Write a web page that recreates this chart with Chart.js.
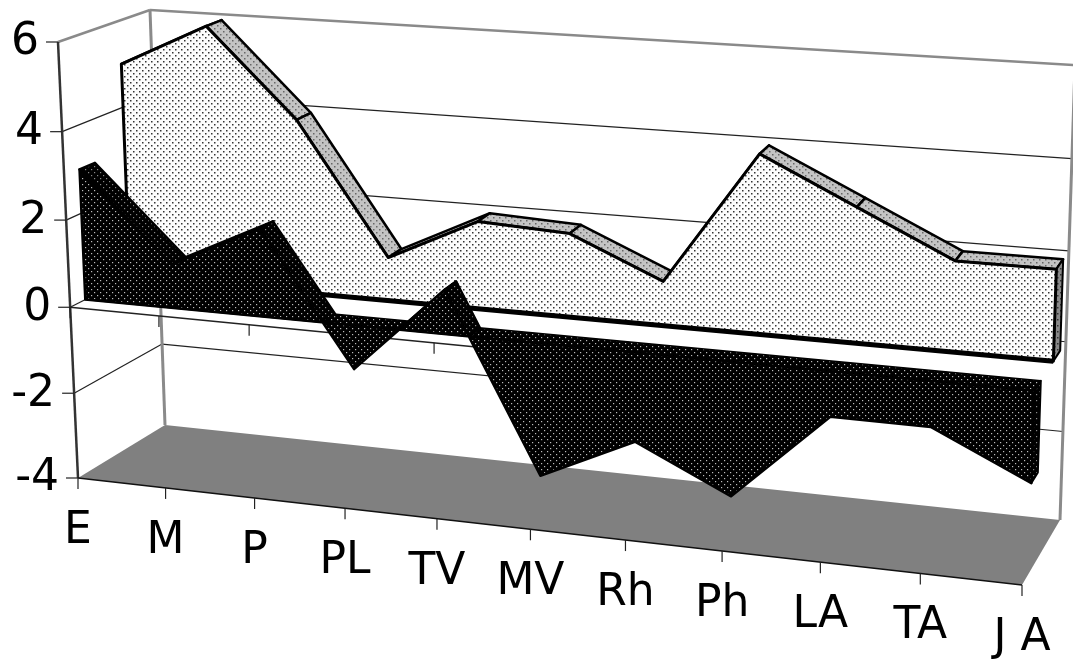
<!DOCTYPE html>
<html>
<head>
<meta charset="utf-8">
<style>
  html, body { margin: 0; padding: 0; background: #fff; overflow: hidden; }
  canvas { display: block; }
</style>
<script src="https://cdn.jsdelivr.net/npm/chart.js@4"></script>
</head>
<body>
<canvas id="chart" width="1073" height="659"></canvas>
<script>
const categories = ['E', 'M', 'P', 'PL', 'TV', 'MV', 'Rh', 'Ph', 'LA', 'TA', 'J A'];
const lightValues = [5, 6, 4, 1, 2, 1.9, 1, 4, 3, 2, 2];
const darkValues = [3, 1, 2, -1, 1, -3, -2, -3, -1, -1, -2];
const yMin = -4;
const yMax = 6;
const yStep = 2;

// corners of the front and back planes of the 3D box: bottom-left, bottom-right, top-right, top-left
const frontPlane = [[78, 478], [1022, 585], [1037, 114], [58, 42]];
const backPlane = [[165, 425], [1060, 520], [1075, 65], [150, 10]];

const planeAt = (w) => frontPlane.map((p, i) => [
  p[0] + (backPlane[i][0] - p[0]) * w,
  p[1] + (backPlane[i][1] - p[1]) * w,
]);

const project = (u, v, w) => {
  const [[x0, y0], [x1, y1], [x2, y2], [x3, y3]] = planeAt(w);
  const dx1 = x1 - x2, dx2 = x3 - x2, dx3 = x0 - x1 + x2 - x3;
  const dy1 = y1 - y2, dy2 = y3 - y2, dy3 = y0 - y1 + y2 - y3;
  const det = dx1 * dy2 - dx2 * dy1;
  const g = (dx3 * dy2 - dx2 * dy3) / det;
  const h = (dx1 * dy3 - dx3 * dy1) / det;
  const d = g * u + h * v + 1;
  return [
    ((x1 - x0 + g * x1) * u + (x3 - x0 + h * x3) * v + x0) / d,
    ((y1 - y0 + g * y1) * u + (y3 - y0 + h * y3) * v + y0) / d,
  ];
};

const makeDots = (bg, dot, size) => {
  const tile = document.createElement('canvas');
  tile.width = 6;
  tile.height = 6;
  const c = tile.getContext('2d');
  c.fillStyle = bg;
  c.fillRect(0, 0, 6, 6);
  c.fillStyle = dot;
  c.fillRect(1, 1, size, size);
  c.fillRect(4, 4, size, size);
  return c.createPattern(tile, 'repeat');
};

const polygon = (ctx, pts, fill, stroke, width) => {
  ctx.beginPath();
  pts.forEach((p, i) => (i ? ctx.lineTo(p[0], p[1]) : ctx.moveTo(p[0], p[1])));
  ctx.closePath();
  if (fill) {
    ctx.fillStyle = fill;
    ctx.fill();
  }
  if (stroke) {
    ctx.strokeStyle = stroke;
    ctx.lineWidth = width;
    ctx.stroke();
  }
};

const line = (ctx, a, b, color, width) => {
  ctx.beginPath();
  ctx.moveTo(a[0], a[1]);
  ctx.lineTo(b[0], b[1]);
  ctx.strokeStyle = color;
  ctx.lineWidth = width;
  ctx.stroke();
};

// draws one series as a solid band between two depths, from the points the library placed
const drawVolume = (chart, index) => {
  const { ctx, chartArea: area } = chart;
  const ds = chart.data.datasets[index];
  const toU = (x) => (x - area.left) / area.width;
  const toV = (y) => (area.bottom - y) / area.height;
  const pts = chart.getDatasetMeta(index).data.map((el) => [toU(el.x), toV(el.y)]);
  const base = toV(chart.scales.y.getPixelForValue(0));
  const [w0, w1] = ds.depth;
  const n = pts.length;
  const uFirst = pts[0][0];
  const uLast = pts[n - 1][0];

  ctx.lineJoin = 'round';

  // floor of the band, only seen where the values go negative
  if (pts.some((p) => p[1] < base)) {
    polygon(ctx, [project(uFirst, base, w0), project(uLast, base, w0), project(uLast, base, w1), project(uFirst, base, w1)], ds.faceFill, '#000', 1.5);
  }

  // top ribbon, segment by segment, cut where it meets the zero plane
  for (let i = 0; i < n - 1; i++) {
    let p = pts[i];
    let q = pts[i + 1];
    if (p[1] <= base && q[1] <= base) continue;
    const t = (base - p[1]) / (q[1] - p[1]);
    const cut = [p[0] + (q[0] - p[0]) * t, base];
    if (p[1] < base) p = cut;
    if (q[1] < base) q = cut;
    polygon(ctx, [project(p[0], p[1], w0), project(q[0], q[1], w0), project(q[0], q[1], w1), project(p[0], p[1], w1)], ds.ribbonFill, '#000', 2.5);
  }

  // end cap
  const end = pts[n - 1];
  polygon(ctx, [project(end[0], end[1], w0), project(end[0], end[1], w1), project(end[0], base, w1), project(end[0], base, w0)], ds.capFill, '#000', 2);

  // front face
  const face = pts.map((p) => project(p[0], p[1], w0));
  face.push(project(uLast, base, w0), project(uFirst, base, w0));
  polygon(ctx, face, ds.faceFill, '#000', ds.edgeWidth);
  if (ds.baseWidth) {
    line(ctx, project(uFirst, base, w0), project(uLast, base, w0), '#000', ds.baseWidth);
  }
};

const boxPlugin = {
  id: 'box3d',
  afterDatasetsDraw(chart) {
    const { ctx, chartArea: area, scales } = chart;
    const toV = (y) => (area.bottom - y) / area.height;
    const toU = (x) => (x - area.left) / area.width;
    const zero = toV(scales.y.getPixelForValue(0));
    const grey = '#808080';

    ctx.save();
    ctx.lineCap = 'butt';

    // floor
    polygon(ctx, [project(0, 0, 0), project(1, 0, 0), project(1, 0, 1), project(0, 0, 1)], grey);

    // walls: grid on side and back
    scales.y.ticks.forEach((tick) => {
      const v = toV(scales.y.getPixelForValue(tick.value));
      if (tick.value === yMin) return;
      if (tick.value === yMax) {
        line(ctx, project(0, v, 0), project(0, v, 1), '#8a8a8a', 2.5);
        line(ctx, project(0, v, 1), project(1, v, 1), '#8a8a8a', 2.5);
      } else {
        line(ctx, project(0, v, 0), project(0, v, 1), '#222', 1.2);
        line(ctx, project(0, v, 1), project(1, v, 1), '#222', 1.2);
      }
    });
    line(ctx, project(0, 1, 1), project(0, 0, 1), '#8a8a8a', 3);
    line(ctx, project(1, 1, 1), project(1, 0, 1), '#8a8a8a', 3);

    // axes
    line(ctx, project(0, 1, 0), project(0, 0, 0), '#333', 2.5);
    line(ctx, project(0, 0, 0), project(1, 0, 0), '#111', 1.5);
    line(ctx, project(0, zero, 0), project(1, zero, 0), '#222', 1.5);

    ctx.font = '44px "DejaVu Sans"';
    ctx.fillStyle = '#000';
    ctx.textBaseline = 'middle';
    ctx.textAlign = 'right';
    scales.y.ticks.forEach((tick) => {
      const v = toV(scales.y.getPixelForValue(tick.value));
      const p = project(0, v, 0);
      line(ctx, p, [p[0] - 12, p[1]], '#222', 1.2);
      ctx.fillStyle = '#000';
      ctx.fillText(String(tick.value), p[0] - 19, p[1] + 1);
    });

    ctx.textBaseline = 'alphabetic';
    ctx.textAlign = 'center';
    scales.x.ticks.forEach((tick, i) => {
      const u = toU(scales.x.getPixelForTick(i));
      const low = project(u, 0, 0);
      const mid = project(u, zero, 0);
      line(ctx, low, [low[0], low[1] + 11], '#222', 1.2);
      line(ctx, mid, [mid[0], mid[1] + 11], '#222', 1.2);
      ctx.fillStyle = '#000';
      ctx.fillText(scales.x.getLabelForValue(tick.value), low[0], low[1] + 65);
    });

    // back series first, front series over it
    drawVolume(chart, 0);
    drawVolume(chart, 1);
    ctx.restore();
  },
};

new Chart(document.getElementById('chart'), {
  type: 'line',
  data: {
    labels: categories,
    datasets: [
      {
        label: 'light',
        data: lightValues,
        showLine: false,
        pointRadius: 0,
        depth: [0.67, 0.85],
        faceFill: makeDots('#fcfcfc', '#333', 1.5),
        ribbonFill: makeDots('#c4c4c4', '#666', 1.5),
        capFill: makeDots('#8a8a8a', '#333', 1.5),
        edgeWidth: 3,
        baseWidth: 5,
      },
      {
        label: 'dark',
        data: darkValues,
        showLine: false,
        pointRadius: 0,
        depth: [0.17, 0.34],
        faceFill: makeDots('#000', '#bbb', 1.2),
        ribbonFill: makeDots('#000', '#888', 1.2),
        capFill: makeDots('#000', '#888', 1.2),
        edgeWidth: 2.5,
      },
    ],
  },
  options: {
    responsive: false,
    animation: false,
    plugins: {
      legend: false,
      tooltip: { enabled: false },
    },
    scales: {
      x: {
        offset: false,
        grid: { display: false },
        border: { display: false },
        ticks: { display: false, autoSkip: false },
      },
      y: {
        min: yMin,
        max: yMax,
        grid: { display: false },
        border: { display: false },
        ticks: { display: false, stepSize: yStep },
      },
    },
  },
  plugins: [boxPlugin],
});
</script>
</body>
</html>
